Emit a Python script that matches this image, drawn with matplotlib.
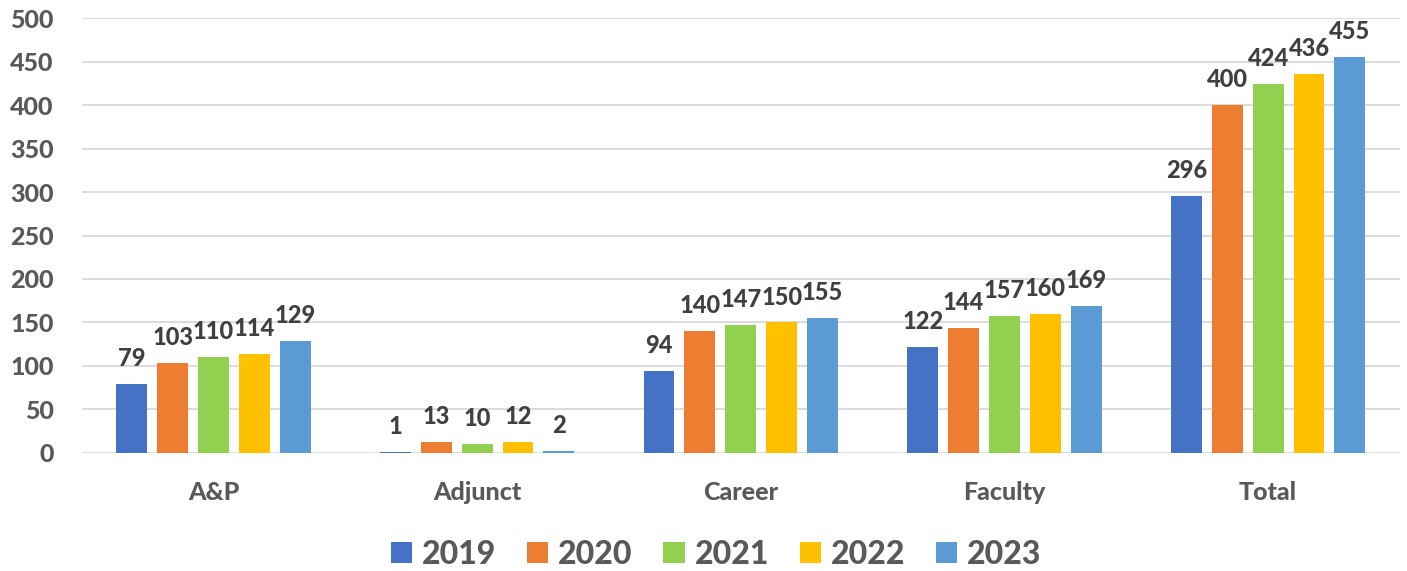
import numpy as np
import matplotlib
matplotlib.use('Agg')
import matplotlib.pyplot as plt

categories = ['A&P', 'Adjunct', 'Career', 'Faculty', 'Total']
years = ['2019', '2020', '2021', '2022', '2023']
v2019 = [79, 1, 94, 122, 296]
v2020 = [103, 13, 140, 144, 400]
v2021 = [110, 10, 147, 157, 424]
v2022 = [114, 12, 150, 160, 436]
v2023 = [129, 2, 155, 169, 455]
series = [v2019, v2020, v2021, v2022, v2023]
colors = ['#4472C4', '#ED7D31', '#92D050', '#FFC000', '#5B9BD5']

plt.rcParams['font.family'] = ['Lato', 'DejaVu Sans']
plt.rcParams['font.weight'] = 900

fig = plt.figure(figsize=(14.07, 5.71), dpi=100)
ax = fig.add_axes([0.058, 0.207, 0.937, 0.761])

x = np.arange(len(categories))
step = 0.155
width = 0.117
for i, (vals, col, yr) in enumerate(zip(series, colors, years)):
    pos = x + (i - 2) * step
    bars = ax.bar(pos, vals, width, color=col, label=yr, zorder=3)
    for b, v in zip(bars, vals):
        ax.text(b.get_x() + b.get_width() / 2, v + 16, str(v), ha='center', va='bottom',
                fontsize=17, fontweight=900, color='#404040')

ax.set_xlim(-0.5, 4.5)
ax.set_ylim(0, 500)
ax.set_yticks(range(0, 501, 50))
ax.set_xticks(x)
ax.set_xticklabels(categories)
ax.tick_params(axis='both', length=0, labelsize=18, labelcolor='#595959')
ax.tick_params(axis='x', pad=20)
ax.tick_params(axis='y', pad=20)
for lab in ax.get_xticklabels() + ax.get_yticklabels():
    lab.set_fontweight(900)
ax.grid(axis='y', color='#d9d9d9', linewidth=1.3, zorder=0)
for s in ax.spines.values():
    s.set_visible(False)

leg = fig.legend(loc='center', bbox_to_anchor=(0.509, 0.029), ncol=5, frameon=False,
                 fontsize=23, handlelength=0.66, handleheight=0.66, handletextpad=0.31,
                 columnspacing=0.97)
for t in leg.get_texts():
    t.set_color('#595959')
    t.set_fontweight(900)

fig.savefig('out.png', dpi=100)
